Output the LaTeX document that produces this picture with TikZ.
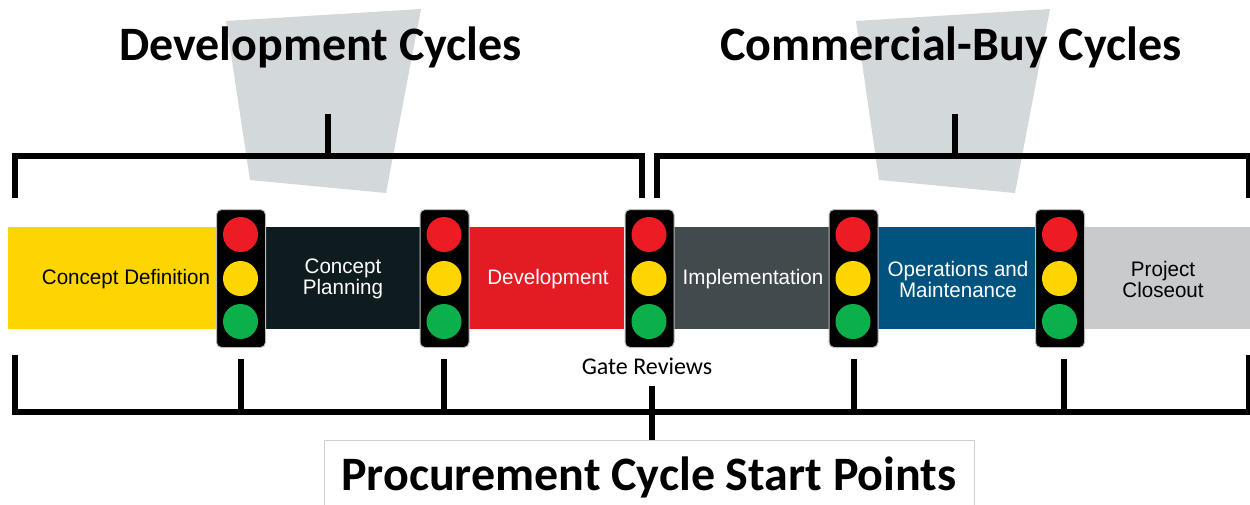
\documentclass[tikz,border=0pt]{standalone}
\usepackage{fontspec}
\setmainfont{Carlito}
\newfontfamily\labelfont[FakeStretch=0.98]{Liberation Sans}
\begin{document}
\begin{tikzpicture}[x=1pt,y=-1pt,
  trap/.style={fill=trapgray,draw=none},
  bar/.style={line width=6pt,draw=black,line cap=butt,line join=miter},
  seg/.style={anchor=north west,inner sep=0pt,outer sep=0pt,minimum height=102pt,draw=none},
  seglabel/.style={align=center,inner sep=0pt,font=\labelfont\fontsize{21}{21}\selectfont},
  housing/.style={anchor=north west,rounded corners=5pt,fill=black,draw=lightedge,line width=1pt,
     minimum width=49pt,minimum height=138pt,inner sep=0pt},
  lamp/.style={ellipse,minimum width=35pt,minimum height=35pt,inner sep=0pt},
  title/.style={font=\bfseries\fontsize{48}{52}\selectfont,inner sep=0pt,text=black},
]
\usetikzlibrary{shapes.geometric}
\definecolor{trapgray}{HTML}{D3D8DA}
\definecolor{lightedge}{HTML}{B9BBBD}
\definecolor{myyellow}{HTML}{FFD500}
\definecolor{mydark}{HTML}{0E1C20}
\definecolor{myred}{HTML}{E31B23}
\definecolor{myslate}{HTML}{414B4D}
\definecolor{myblue}{HTML}{00527F}
\definecolor{mygray}{HTML}{C8CACC}
\definecolor{lampred}{HTML}{ED1C24}
\definecolor{lampyellow}{HTML}{FFD500}
\definecolor{lampgreen}{HTML}{0BB04B}
\useasboundingbox (0,0) rectangle (1250,504);
\fill[white] (0,0) rectangle (1250,504);
% grey trapezoids
\fill[trap] (226,21) -- (421,9) -- (386,193) -- (250,180) -- cycle;
\fill[trap] (856,21) -- (1050,9) -- (1015,193) -- (879,180) -- cycle;
% titles
\node[title] (devtitle) at (320.5,47) {Development Cycles};
\node[title] (buytitle) at (951,47) {Commercial-Buy Cycles};
% coloured band
\node[seg,fill=myyellow,minimum width=208pt] (s1) at (8,227) {};
\node[seg,fill=mydark,minimum width=155pt] (s2) at (265,227) {};
\node[seg,fill=myred,minimum width=155pt] (s3) at (469,227) {};
\node[seg,fill=myslate,minimum width=155pt] (s4) at (674,227) {};
\node[seg,fill=myblue,minimum width=157pt] (s5) at (878,227) {};
\node[seg,fill=mygray,minimum width=166pt] (s6) at (1084,227) {};
\node[seglabel,text=black] (l1) at (126,279) {Concept Definition};
\node[seglabel,text=white] (l2) at (343,279) {Concept\\Planning};
\node[seglabel,text=white] (l3) at (548,279) {Development};
\node[seglabel,text=white] (l4) at (753,279) {Implementation};
\node[seglabel,text=white] (l5) at (958,279) {Operations and\\Maintenance};
\node[seglabel,text=black] (l6) at (1163,279) {Project\\Closeout};
% traffic lights
\foreach \n/\x in {a/216,b/419.5,c/624.5,d/828.5,e/1035}{
  \node[housing] (light\n) at (\x,209) {};
  \node[lamp,fill=lampred] (red\n) at (\x+24.5,234.5) {};
  \node[lamp,fill=lampyellow] (yellow\n) at (\x+24.5,278.5) {};
  \node[lamp,fill=lampgreen] (green\n) at (\x+24.5,321.5) {};
}
% top brackets
\coordinate (tl1) at (15,198);
\coordinate (tl2) at (15,156);
\coordinate (tl3) at (642,156);
\coordinate (tl4) at (642,198);
\coordinate (tr1) at (657,198);
\coordinate (tr2) at (657,156);
\coordinate (tr3) at (1249,156);
\coordinate (tr4) at (1249,198);
\coordinate (stemL) at (328,114);
\coordinate (stemLb) at (328,156);
\coordinate (stemR) at (954.5,114);
\coordinate (stemRb) at (954.5,156);
\draw[bar] (tl1) -- (tl2) -- (tl3) -- (tl4);
\draw[bar] (tr1) -- (tr2) -- (tr3) -- (tr4);
\draw[bar] (stemL) -- (stemLb);
\draw[bar] (stemR) -- (stemRb);
% gate reviews
\node[font=\fontsize{24}{28}\selectfont,inner sep=0pt] (gate) at (647,366) {Gate Reviews};
% bottom bracket
\coordinate (bl) at (15,355);
\coordinate (blb) at (15,412);
\coordinate (br) at (1249,355);
\coordinate (brb) at (1249,412);
\draw[bar] (bl) -- (blb) -- (brb) -- (br);
\foreach \x in {241,444,854,1064}{
  \coordinate (t\x) at (\x,359);
  \coordinate (u\x) at (\x,412);
  \draw[bar] (t\x) -- (u\x);
}
% start points box
\node[draw=lightedge!70,fill=white,line width=1pt,anchor=north west,minimum width=650pt,minimum height=70pt,inner sep=0pt] (spbox) at (324,440) {};
\coordinate (gt) at (652,386);
\draw[bar] (gt) -- (spbox.north -| gt);
\node[title] (sptitle) at (649,477) {Procurement Cycle Start Points};
\end{tikzpicture}
\end{document}
